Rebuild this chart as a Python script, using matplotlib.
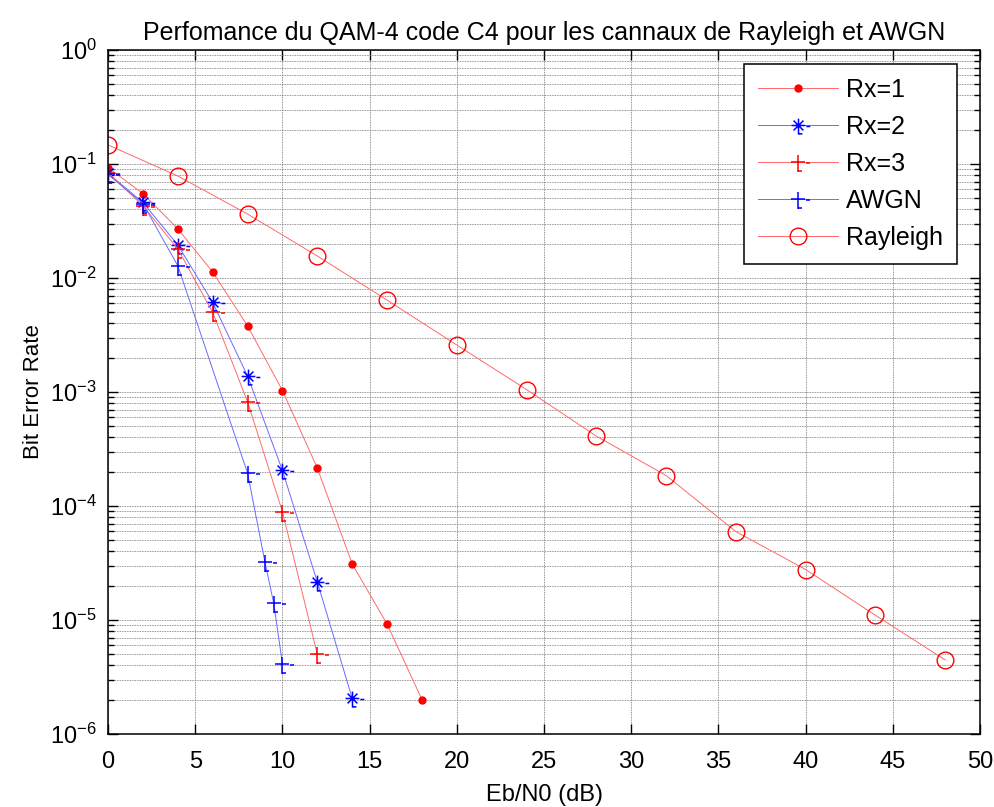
import numpy as np
import matplotlib
matplotlib.use("Agg")
import matplotlib.pyplot as plt
from matplotlib.path import Path
from matplotlib.ticker import LogLocator, FixedLocator, NullFormatter

plt.rcParams['font.family'] = ['Liberation Sans', 'DejaVu Sans']
plt.rcParams['mathtext.fontset'] = 'custom'
plt.rcParams['mathtext.rm'] = 'Liberation Sans'

# ----------------------------
# Data
# ----------------------------
ebno_rx1 = [0, 2, 4, 6, 8, 10, 12, 14, 16, 18]
ber_rx1 = [0.093, 0.055, 0.027, 0.0113, 0.0038, 1.03e-3, 2.15e-4, 3.1e-5, 9.2e-6, 2.0e-6]

ebno_rx2 = [0, 2, 4, 6, 8, 10, 12, 14]
ber_rx2 = [0.083, 0.046, 0.0195, 0.0061, 1.38e-3, 2.05e-4, 2.15e-5, 2.05e-6]

ebno_rx3 = [0, 2, 4, 6, 8, 10, 12]
ber_rx3 = [0.084, 0.043, 0.018, 0.005, 8.2e-4, 8.9e-5, 5.0e-6]

ebno_awgn = [0, 2, 4, 8, 9, 9.5, 10]
ber_awgn = [0.081, 0.045, 0.0128, 1.94e-4, 3.2e-5, 1.4e-5, 4.1e-6]

ebno_ray = [0, 4, 8, 12, 16, 20, 24, 28, 32, 36, 40, 44, 48]
ber_ray = [0.147, 0.0785, 0.0364, 0.0156, 0.0064, 0.00258, 1.05e-3, 4.1e-4,
           1.85e-4, 5.96e-5, 2.77e-5, 1.1e-5, 4.46e-6]

labels = ["Rx=1", "Rx=2", "Rx=3", "AWGN", "Rayleigh"]
xticks = [0, 5, 10, 15, 20, 25, 30, 35, 40, 45, 50]

# ----------------------------
# Odd MATLAB-export markers ("+" / "*" with small stray dashes)
# ----------------------------
M, L = Path.MOVETO, Path.LINETO
plus_verts = [(-7, 0), (7, 0), (0, 7), (0, -10), (8, -1), (12, -1), (0, -9.5), (4, -9.5)]
plus_codes = [M, L, M, L, M, L, M, L]
plus_marker = Path(plus_verts, plus_codes)

star_verts = [(-7, 0), (7, 0), (0, 7), (0, -9), (-5, -5), (5, 5), (-5, 5), (5, -5),
              (8, -1), (12, -1), (0, -8.5), (4, -8.5)]
star_codes = [M, L, M, L, M, L, M, L, M, L, M, L]
star_marker = Path(star_verts, star_codes)

red_line = '#ff6a6a'
blue_line = '#6a6aff'

fig = plt.figure(figsize=(9.94, 8.07), dpi=100)
ax = fig.add_axes([0.1087, 0.0905, 0.8773, 0.8475])

lw = 0.7
ax.semilogy(ebno_rx1, ber_rx1, color=red_line, lw=lw, marker='o', ms=5,
            markerfacecolor='red', markeredgecolor='red', label=labels[0])
ax.semilogy(ebno_rx2, ber_rx2, color=blue_line, lw=lw, marker=star_marker, ms=17,
            markerfacecolor='none', markeredgecolor='blue', markeredgewidth=1.1, label=labels[1])
ax.semilogy(ebno_rx3, ber_rx3, color=red_line, lw=lw, marker=plus_marker, ms=17,
            markerfacecolor='none', markeredgecolor='red', markeredgewidth=1.1, label=labels[2])
ax.semilogy(ebno_awgn, ber_awgn, color=blue_line, lw=lw, marker=plus_marker, ms=17,
            markerfacecolor='none', markeredgecolor='blue', markeredgewidth=1.1, label=labels[3])
ax.semilogy(ebno_ray, ber_ray, color=red_line, lw=lw, marker='o', ms=12,
            markerfacecolor='none', markeredgecolor='red', markeredgewidth=1.0, label=labels[4])

ax.set_xlim(0, 50)
ax.set_ylim(1e-6, 1)
ax.xaxis.set_major_locator(FixedLocator(xticks))
ax.yaxis.set_major_locator(LogLocator(base=10, numticks=10))
ax.yaxis.set_minor_locator(LogLocator(base=10, subs=np.arange(2, 10), numticks=20))
ax.yaxis.set_minor_formatter(NullFormatter())

ax.grid(True, which='major', axis='both', color='#707070', ls=(0, (1, 1)), lw=0.6)
ax.grid(True, which='minor', axis='y', color='#707070', ls=(0, (1, 1)), lw=0.6)

ax.tick_params(which='both', direction='in', top=True, right=True, labelsize=17, width=1)
ax.tick_params(which='major', length=7)
ax.tick_params(axis='x', which='major', pad=12)
ax.tick_params(axis='y', which='major', pad=8)
ax.tick_params(which='minor', length=4)
for s in ax.spines.values():
    s.set_linewidth(1.1)
    s.set_color('black')

ax.set_xlabel("Eb/N0 (dB)", fontsize=17, labelpad=8)
ax.set_ylabel("Bit Error Rate", fontsize=16, labelpad=4)
ax.set_title("Perfomance du QAM-4 code C4 pour les cannaux de Rayleigh et AWGN",
             fontsize=18, pad=7)

leg = ax.legend(loc='upper right', bbox_to_anchor=(0.9736, 0.9795), borderaxespad=0,
                fontsize=18, fancybox=False, framealpha=1, edgecolor='black',
                handlelength=3.2, handletextpad=0.35, labelspacing=0.52, borderpad=0.55)
leg.get_frame().set_linewidth(1.1)

fig.savefig("out.png", dpi=100)
plt.close(fig)
